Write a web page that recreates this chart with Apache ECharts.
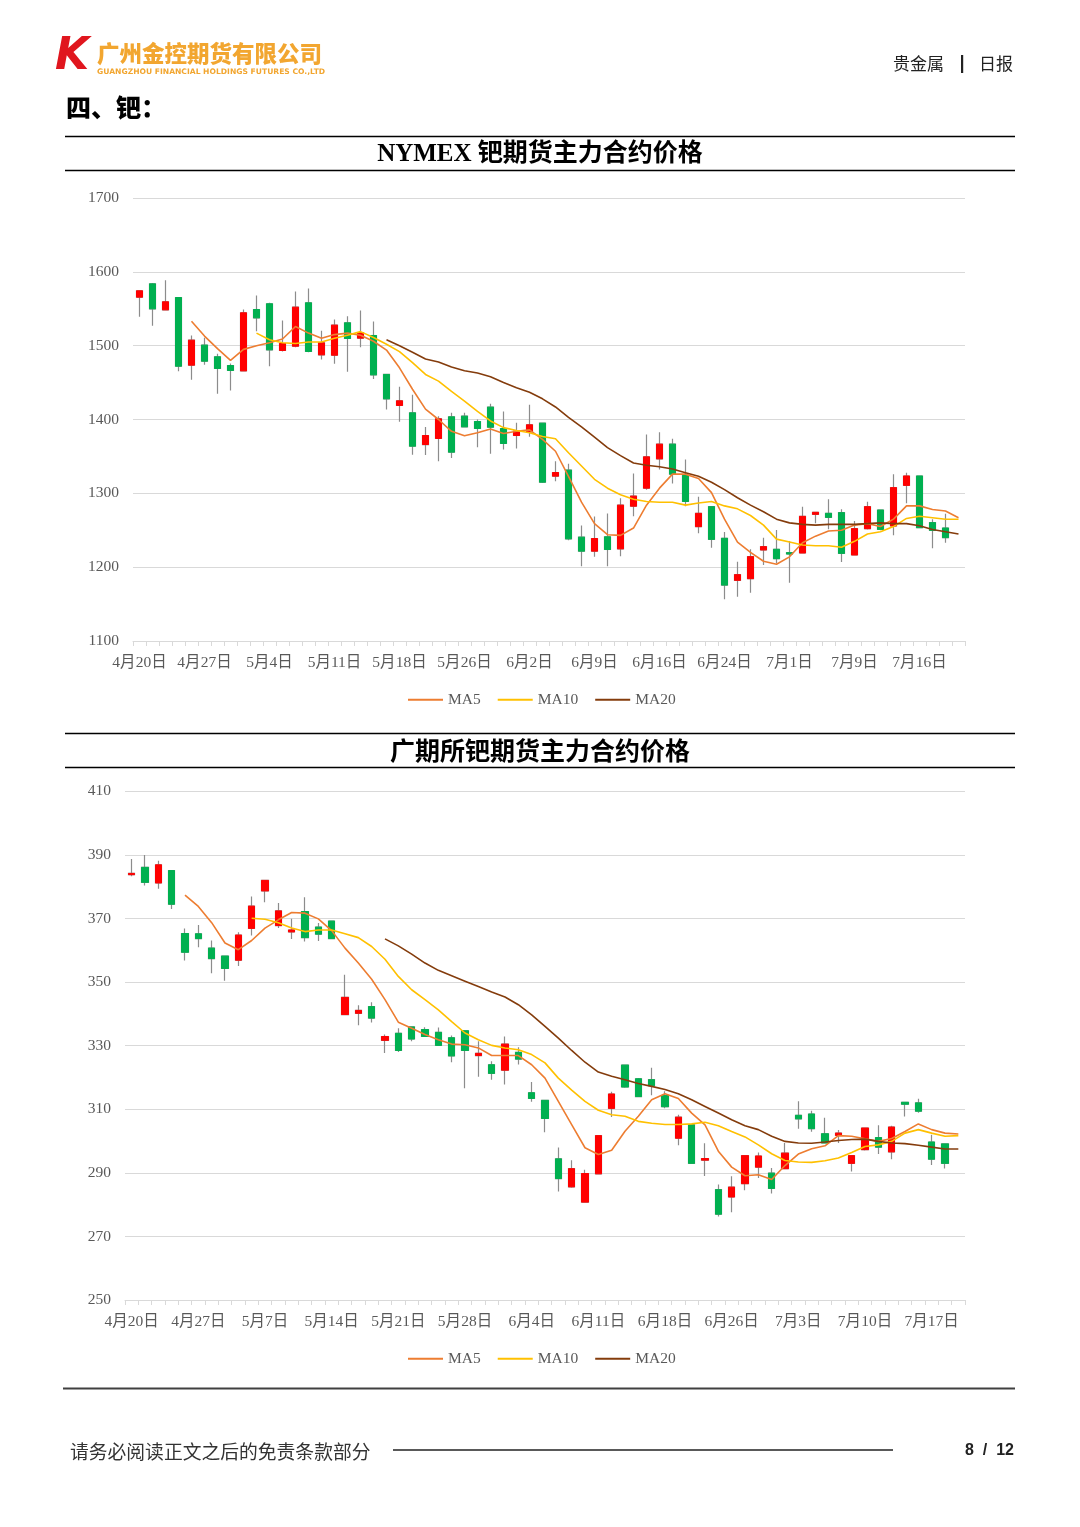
<!DOCTYPE html>
<html>
<head>
<meta charset="utf-8">
<title>钯期货主力合约价格</title>
<script src="https://cdn.jsdelivr.net/npm/echarts@6/dist/echarts.min.js"></script>
<style>
  html, body { margin: 0; padding: 0; background: #fff; }
  #main-chart { width: 1080px; height: 1527px; }
</style>
</head>
<body>
<div id="main-chart"></div>
<script>
// NYMEX palladium, trading days
const datesNymex = ['4月20日','4月21日','4月22日','4月23日','4月24日','4月27日','4月28日','4月29日','4月30日','5月1日',
  '5月4日','5月5日','5月6日','5月7日','5月8日','5月11日','5月12日','5月13日','5月14日','5月15日',
  '5月18日','5月19日','5月20日','5月21日','5月22日','5月26日','5月27日','5月28日','5月29日','6月1日',
  '6月2日','6月3日','6月4日','6月5日','6月8日','6月9日','6月10日','6月11日','6月12日','6月15日',
  '6月16日','6月17日','6月18日','6月22日','6月23日','6月24日','6月25日','6月26日','6月29日','6月30日',
  '7月1日','7月2日','7月6日','7月7日','7月8日','7月9日','7月10日','7月13日','7月14日','7月15日',
  '7月16日','7月17日','7月20日','7月21日'];

const openNymex = [1565.7,1583.7,1548.5,1565.2,1473.6,1500.7,1484.9,1473.1,1465.9,1549,
  1556.7,1493.5,1499.3,1558,1487.6,1487.1,1530.9,1510.2,1513.8,1461,
  1419,1409,1366.1,1374.3,1403.6,1404.5,1397.3,1416.7,1387.8,1378.3,
  1383.3,1395,1323.3,1331.4,1240.6,1221.7,1241.1,1224.8,1282.6,1307,
  1346.7,1366.6,1324.2,1254.9,1281.9,1239.1,1182.2,1184.4,1223.3,1224.2,
  1219.6,1219.2,1271.6,1272.9,1273.8,1216.5,1252.1,1277.4,1255.8,1310.8,
  1323.5,1260.3,1253];
const closeNymex = [1574.3,1549.9,1559.4,1472.2,1507.4,1479,1469.1,1466.4,1544.5,1537.7,
  1494.4,1502.9,1552.1,1492.1,1503.8,1527.8,1509.7,1517.4,1460.5,1428,
  1425.3,1363.9,1378.3,1400.9,1355.8,1390.1,1387.8,1389.6,1367.5,1384.2,
  1392.8,1315.1,1328.2,1238.4,1221.7,1238.8,1223.9,1284,1296.2,1349.4,
  1366.6,1326,1289,1272.9,1237.7,1175.8,1189.8,1214.2,1227.8,1211.5,
  1217.8,1268.8,1274.3,1267.5,1218.7,1252.1,1281.9,1251.2,1307.7,1323.5,
  1253.5,1249.9,1240];
const lowNymex = [1539,1527,1548,1465.5,1454,1474,1434.8,1439.3,1465,1519.6,
  1472.2,1492,1498,1491,1481.3,1475.4,1464.6,1498,1455,1413.5,
  1396.8,1352.1,1352,1343.6,1348,1389,1362.5,1353.5,1359.4,1360.7,
  1376.5,1314,1316.5,1236.6,1201.4,1214,1201.4,1214.9,1269,1305,
  1332.3,1313.3,1282.6,1245.8,1226.4,1156.4,1160,1165.5,1203,1205.2,
  1179,1219,1259.4,1251.2,1207,1216,1251,1250,1243.1,1286.5,
  1253,1225.5,1233.2];
const highNymex = [1575,1585,1588.7,1565.5,1513.8,1510.6,1489,1476,1549,1568,
  1558,1534.1,1573.4,1577.4,1520.1,1535.4,1540,1547.6,1532.7,1462,
  1444.2,1433.4,1390,1404.5,1409,1409,1400,1421.2,1410.8,1395.5,
  1419.9,1396,1343.6,1340,1256.4,1268.6,1272.7,1293.5,1326.9,1379.7,
  1382.8,1373.8,1345.8,1295.5,1283,1247.6,1207.4,1224.2,1240,1250.3,
  1235.4,1281.9,1275,1291.9,1278.3,1262.5,1288.7,1278,1325.7,1328,
  1324,1264.8,1272.5];

// moving averages, first value sits at index 4 / 9 / 19
const ma5Nymex = [1533,1513,1496,1480,1495,1500,1504,1509,1526,1517,1510,1515,1517,1514,1506,1494,
  1470,1441,1414,1400,1384,1378,1382,1387,1381,1384,1386,1373,1357,1323,1288,1259,1244,1243,1253,1284,
  1307,1326,1326,1320,1301,1265,1234,1220,1208,1204,1214,1233,1242,1249,1250,1257,1259,1255,1265,1283,
  1283,1278,1276,1267];
const ma10Nymex = [1517,1508,1504,1503,1505,1505,1510,1514,1519,1511,1502,1492,1477,1461,1452,1438,
  1425,1411,1398,1389,1385,1382,1377,1374,1355,1337,1319,1307,1298,1292,1289,1288,1288,1284,1287,1289,
  1283,1279,1270,1257,1238,1234,1230,1229,1229,1227,1235,1245,1248,1255,1266,1269,1267,1265,1265];
const ma20Nymex = [1508,1500,1491,1482,1478,1471,1466,1463,1458,1450,1443,1437,1428,1417,1403,1390,
  1376,1362,1351,1341,1338,1336,1333,1328,1323,1315,1305,1294,1284,1275,1265,1260,1258,1257,1258,1258,
  1258,1259,1260,1259,1259,1256,1251,1248,1245];

// GFEX palladium, trading days
const datesGfex = ['4月20日','4月21日','4月22日','4月23日','4月24日','4月27日','4月28日','4月29日','4月30日','5月6日',
  '5月7日','5月8日','5月11日','5月12日','5月13日','5月14日','5月15日','5月18日','5月19日','5月20日',
  '5月21日','5月22日','5月25日','5月26日','5月27日','5月28日','5月29日','6月1日','6月2日','6月3日',
  '6月4日','6月5日','6月8日','6月9日','6月10日','6月11日','6月12日','6月15日','6月16日','6月17日',
  '6月18日','6月22日','6月23日','6月24日','6月25日','6月26日','6月29日','6月30日','7月1日','7月2日',
  '7月3日','7月6日','7月7日','7月8日','7月9日','7月10日','7月13日','7月14日','7月15日','7月16日',
  '7月17日','7月20日','7月21日'];

const openGfex = [383.8,386.1,381.2,385.1,365.3,365.2,360.7,358.2,356.9,366.9,
  378.7,367.8,365.8,372.2,367.3,369.2,339.8,340.2,342.3,331.7,
  333.9,335.9,335.1,334.2,332.5,334.7,326.9,324,322.3,327.9,
  315.2,312.8,294.4,285.6,280.8,289.7,310.3,323.9,319.6,319.3,
  314.3,300.9,305.1,294,284.7,282.4,286.6,291.8,289.9,291.3,
  308.1,308.5,302.3,301.8,293,297.3,301.1,296.6,312.2,312,
  299.7,299.1];
const closeGfex = [384.2,381.4,386.9,374.5,359.4,363.7,357.4,354.3,364.8,373.9,
  382,372.4,366.4,364,365.1,363.7,345.2,341.1,338.7,332.9,
  328.5,332.1,332.9,330.1,326.8,328.5,327.6,321.3,330.5,325.8,
  313.4,307.1,288.2,291.3,289.8,301.7,314.8,317,314,317.4,
  310.8,307.5,293,294.5,277,285.5,295.4,295.3,285.1,296.2,
  307,303.9,299.4,302.5,295.4,304.1,298.1,304.4,311.6,309.4,
  294.3,293];
const lowGfex = [383.3,380.4,379.4,373,356.8,361,352.8,350.4,355.1,364.7,
  375.1,367,363.6,362.8,362.9,363.5,339.7,336.4,337.3,327.7,
  328,331.4,332.7,330,324.8,316.6,320.2,319.3,317.8,324.1,
  312.4,302.8,284.1,285.3,280.6,289.5,307.6,316.8,313.8,314.4,
  310.3,298.7,292.8,289,276.3,277.6,284.5,288.4,283.5,291.2,
  303.9,302.9,299.2,299.4,290.4,297,295.9,294.3,307.7,308.9,
  292.5,291.4];
const highGfex = [388.7,390,388.2,385.3,366.9,368,363.1,358.4,365.7,376.9,
  382.2,374.9,369.9,376.7,368.6,369.3,352.3,342.7,343.7,333.5,
  335.5,336.1,335.8,335.7,333.2,334.8,331.4,325.1,332.9,329.5,
  318.6,313,298,294,291,301.9,315.5,324,319.8,323.1,
  315.7,308.3,305.3,299.3,286.3,288.9,295.5,296.4,291.5,299.4,
  312.5,309.5,307.3,303.5,295.5,304.3,305,304.8,312.4,313.3,
  302,299.3];

const ma5Gfex = [377.4,373.8,368.7,362.3,360.2,363.1,367,369.6,371.9,371.7,369.9,366.2,360.7,356,350.9,344.5,
  337.4,335.5,333.5,331.9,330.5,330.3,329.3,326.9,326.9,326.9,324,319.8,312.5,305.2,297.9,295.8,
  297.1,303.1,307.8,313,314.9,313.4,308.8,305.1,296.8,291.8,289.1,289.4,287.9,292.3,295.9,297.6,
  298.5,301.7,301.5,300.7,299.9,300.8,303,305.4,303.6,302.5,302.2];
const ma10Gfex = [370.1,369.8,368.7,367,365.9,366.4,366.4,365.2,364,361.2,357.2,351.8,347.6,344.5,341.3,337.6,
  334,331.9,330.1,329.3,328.7,327.2,324.6,319.8,316,312.5,309.7,308.3,307.8,306.2,305.6,305.2,
  305.2,305.4,305.9,304.8,303,301.3,298.8,296,293.9,293.4,293.3,293.8,294.7,296.4,298.3,298.8,
  299.9,302.5,303.6,302.5,301.5,301.7];
const ma20Gfex = [363.6,361.4,358.8,356,353.7,352,350.3,348.6,346.9,345.3,342.9,339.7,336.1,332.4,328.5,324.8,
  321.7,320.4,319.3,318.1,317.2,316.2,314.9,313,310.9,308.8,306.7,304.8,303.6,301.5,299.9,299.4,
  299.3,299.7,300.2,300.5,300.6,299.9,299.4,299.2,298.7,298.1,297.5,297.5];

const maNames = ['MA5', 'MA10', 'MA20'];
const maColors = ['#ED7D31', '#FFC000', '#843C0C'];
const serif = 'Liberation Serif, Noto Sans CJK SC';

function pad(n, arr) {
  return new Array(n).fill('-').concat(arr);
}

// wick series: gray shadows, no fill
function wickSeries(idx, o, c, l, h) {
  let data = [];
  for (let i = 0; i < o.length; i++) data.push([o[i], c[i], l[i], h[i]]);
  return {
    type: 'candlestick', xAxisIndex: idx, yAxisIndex: idx, barWidth: 7, z: 2,
    itemStyle: { color: 'transparent', color0: 'transparent', borderColor: '#8C8C8C', borderColor0: '#8C8C8C', borderWidth: 1.2 },
    data: data
  };
}

// body series: red up / green down
function bodySeries(idx, o, c) {
  let data = [];
  for (let i = 0; i < o.length; i++) {
    data.push([o[i], c[i], Math.min(o[i], c[i]), Math.max(o[i], c[i])]);
  }
  return {
    type: 'candlestick', xAxisIndex: idx, yAxisIndex: idx, barWidth: 7, z: 3,
    itemStyle: { color: '#FF0000', color0: '#00B050', borderColor: '#FF0000', borderColor0: '#00B050', borderWidth: 1 },
    data: data
  };
}

function maSeries(idx, name, color, data) {
  return {
    name: name, type: 'line', xAxisIndex: idx, yAxisIndex: idx, z: 4,
    showSymbol: false, symbol: 'none', connectNulls: false,
    lineStyle: { color: color, width: 1.6 }, itemStyle: { color: color },
    data: data
  };
}

function xAxisCfg(idx, dates) {
  return {
    type: 'category', gridIndex: idx, data: dates, boundaryGap: true,
    axisLine: { lineStyle: { color: '#D9D9D9', width: 1 } },
    axisTick: { show: true, interval: 0, length: 5, lineStyle: { color: '#D9D9D9' } },
    axisLabel: { interval: 4, color: '#595959', fontSize: 15.5, fontFamily: serif, margin: 14 },
    splitLine: { show: false }
  };
}

function yAxisCfg(idx, min, max, interval) {
  return {
    type: 'value', gridIndex: idx, min: min, max: max, interval: interval,
    axisLine: { show: false }, axisTick: { show: false },
    axisLabel: { color: '#595959', fontSize: 15.5, fontFamily: serif, margin: 14, formatter: function (v) { return String(v); } },
    splitLine: { lineStyle: { color: '#D9D9D9', width: 1 } }
  };
}

function legendCfg(top) {
  return {
    data: maNames, top: top, left: 403, icon: 'rect', itemWidth: 35, itemHeight: 2, itemGap: 17,
    selectedMode: false,
    textStyle: { color: '#595959', fontSize: 15.5, fontFamily: serif }
  };
}

function hline(x1, x2, y, color, w) {
  return { type: 'line', shape: { x1: x1, y1: y, x2: x2, y2: y }, style: { stroke: color, lineWidth: w }, silent: true };
}

function txt(x, y, text, font, fill, align, base) {
  return {
    type: 'text', x: x, y: y, silent: true,
    style: { text: text, font: font, fill: fill, textAlign: align || 'left', textVerticalAlign: base || 'middle' }
  };
}

let chartDom = document.getElementById('main-chart');
let myChart = echarts.init(chartDom, null, { renderer: 'canvas' });

let option = {
  animation: false,
  backgroundColor: '#fff',
  grid: [
    { left: 133, width: 832, top: 198, height: 443 },
    { left: 125, width: 840, top: 791.4, height: 508.6 }
  ],
  xAxis: [xAxisCfg(0, datesNymex), xAxisCfg(1, datesGfex)],
  yAxis: [yAxisCfg(0, 1100, 1700, 100), yAxisCfg(1, 250, 410, 20)],
  legend: [legendCfg(687), legendCfg(1346)],
  series: [
    wickSeries(0, openNymex, closeNymex, lowNymex, highNymex),
    bodySeries(0, openNymex, closeNymex),
    maSeries(0, 'MA5', maColors[0], pad(4, ma5Nymex)),
    maSeries(0, 'MA10', maColors[1], pad(9, ma10Nymex)),
    maSeries(0, 'MA20', maColors[2], pad(19, ma20Nymex)),
    wickSeries(1, openGfex, closeGfex, lowGfex, highGfex),
    bodySeries(1, openGfex, closeGfex),
    maSeries(1, 'MA5', maColors[0], pad(4, ma5Gfex)),
    maSeries(1, 'MA10', maColors[1], pad(9, ma10Gfex)),
    maSeries(1, 'MA20', maColors[2], pad(19, ma20Gfex))
  ],
  graphic: [
    // header
    txt(55, 58, 'K', 'italic 900 44px "DejaVu Sans"', '#E0161E'),
    txt(97, 53, '广州金控期货有限公司', '900 22.5px "Noto Sans CJK SC"', '#F2A630'),
    txt(97, 72, 'GUANGZHOU FINANCIAL HOLDINGS FUTURES CO.,LTD', 'bold 7.6px "DejaVu Sans"', '#F2A630'),
    txt(893, 64, '贵金属', '17px "Noto Sans CJK SC"', '#222'),
    { type: 'rect', shape: { x: 961, y: 55, width: 2.2, height: 18 }, style: { fill: '#222' }, silent: true },
    txt(979, 64, '日报', '17px "Noto Sans CJK SC"', '#222'),
    txt(66, 107, '四、钯：', '900 25px "Noto Sans CJK SC"', '#000'),
    // chart 1 title bar
    hline(65, 1015, 136.5, '#000', 1.5),
    txt(540, 155, 'NYMEX 钯期货主力合约价格', 'bold 25px "Liberation Serif", "Noto Sans CJK SC"', '#000', 'center'),
    hline(65, 1015, 170.5, '#000', 1.5),
    // chart 2 title bar
    hline(65, 1015, 733.5, '#000', 1.5),
    txt(540, 750, '广期所钯期货主力合约价格', 'bold 25px "Noto Sans CJK SC"', '#000', 'center'),
    hline(65, 1015, 767.5, '#000', 1.5),
    // footer
    hline(63, 1015, 1388.5, '#404040', 2),
    txt(70, 1452, '请务必阅读正文之后的免责条款部分', '18.8px "Noto Sans CJK SC"', '#333'),
    hline(393, 893, 1450, '#595959', 2),
    txt(1014, 1451, '8  /  12', 'bold 16px "Liberation Sans Narrow", "Liberation Sans"', '#222', 'right')
  ]
};

myChart.setOption(option);
</script>
</body>
</html>
